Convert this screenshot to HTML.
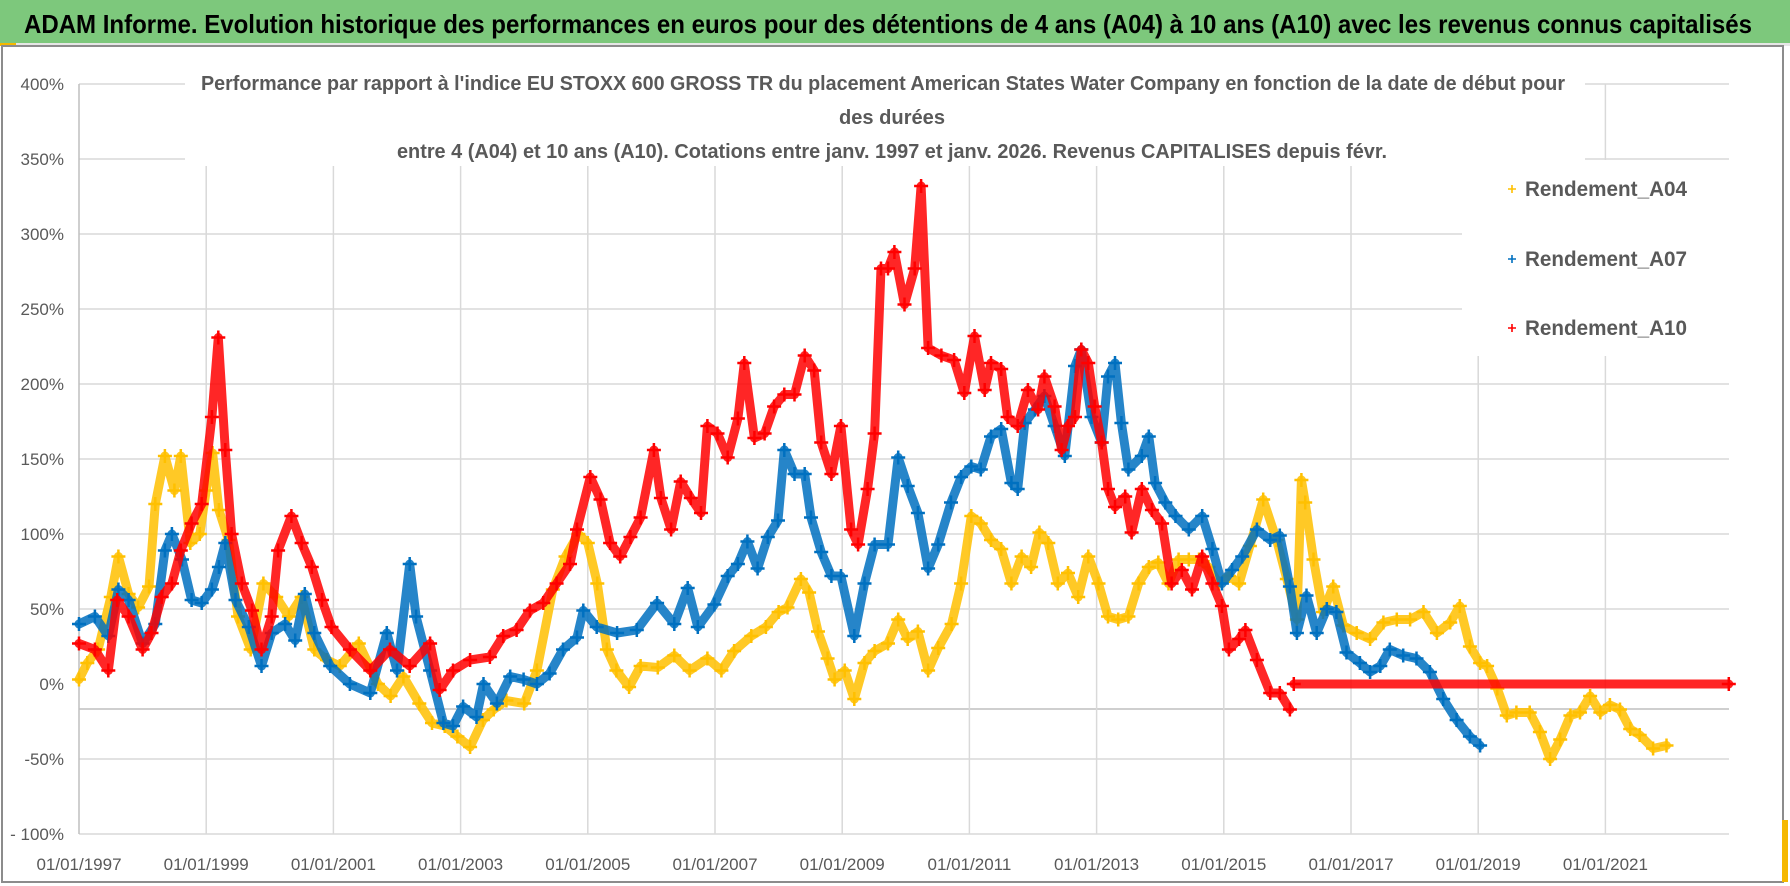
<!DOCTYPE html>
<html><head><meta charset="utf-8"><style>
html,body{margin:0;padding:0;background:#fff;}
svg{display:block;font-family:"Liberation Sans Narrow","Liberation Sans",sans-serif;}
</style></head><body>
<svg id="chart" width="1790" height="886" viewBox="0 0 1790 886" xmlns="http://www.w3.org/2000/svg">
<rect x="0" y="0" width="1790" height="886" fill="#fff"/>
<rect x="0" y="0" width="1790" height="43" fill="#7dc87c"/>
<rect x="0" y="43" width="1790" height="3" fill="#e6e6e6"/>
<rect x="0" y="43" width="16" height="3" fill="#f5b800"/>
<text x="24" y="33" font-size="26" font-weight="bold" fill="#000" textLength="1728" lengthAdjust="spacingAndGlyphs">ADAM Informe. Evolution historique des performances en euros pour des détentions de 4 ans (A04) à 10 ans (A10) avec les revenus connus capitalisés</text>
<rect x="2" y="46" width="1781" height="836" fill="none" stroke="#8c8c8c" stroke-width="2"/>
<rect x="1782" y="820" width="6" height="62" fill="#f5b800"/>
<g id="grid"></g>
<g id="series"></g>
<rect x="185" y="68" width="1400" height="98" fill="#fff"/>
<text x="883" y="90" font-size="20" font-weight="bold" fill="#595959" text-anchor="middle" textLength="1364" lengthAdjust="spacingAndGlyphs">Performance par rapport à l'indice EU STOXX 600 GROSS TR  du placement American States Water Company en fonction de la date de début pour</text>
<text x="892" y="124" font-size="20" font-weight="bold" fill="#595959" text-anchor="middle" textLength="106" lengthAdjust="spacingAndGlyphs">des durées</text>
<text x="892" y="158" font-size="20" font-weight="bold" fill="#595959" text-anchor="middle" textLength="990" lengthAdjust="spacingAndGlyphs">entre 4 (A04) et 10 ans (A10). Cotations entre janv. 1997 et janv. 2026. Revenus CAPITALISES depuis févr.</text>
<g>
<rect x="1462" y="160" width="272" height="196" fill="#fff"/>
<g><path d="M1508 189h8M1512 185v8" stroke="#ffc000" stroke-width="1.6"/><text x="1525" y="196" font-size="21" font-weight="bold" fill="#595959" textLength="162" lengthAdjust="spacingAndGlyphs">Rendement_A04</text></g>
<g><path d="M1508 259h8M1512 255v8" stroke="#0070c0" stroke-width="1.6"/><text x="1525" y="266" font-size="21" font-weight="bold" fill="#595959" textLength="162" lengthAdjust="spacingAndGlyphs">Rendement_A07</text></g>
<g><path d="M1508 328h8M1512 324v8" stroke="#ff0000" stroke-width="1.6"/><text x="1525" y="335" font-size="21" font-weight="bold" fill="#595959" textLength="162" lengthAdjust="spacingAndGlyphs">Rendement_A10</text></g>
</g>
</svg>
<script>
const yTicks=[400,350,300,250,200,150,100,50,0,-50,-100];
const yTickLabels=["400%","350%","300%","250%","200%","150%","100%","50%","0%","-50%","- 100%"];
const xTicks=[1997,1999,2001,2003,2005,2007,2009,2011,2013,2015,2017,2019,2021];
const xTickLabels=["01/01/1997","01/01/1999","01/01/2001","01/01/2003","01/01/2005","01/01/2007","01/01/2009","01/01/2011","01/01/2013","01/01/2015","01/01/2017","01/01/2019","01/01/2021"];
const a04Dates=[1997.0,1997.13,1997.3,1997.5,1997.62,1997.78,1997.93,1998.1,1998.2,1998.35,1998.5,1998.6,1998.75,1998.9,1999.0,1999.1,1999.2,1999.35,1999.5,1999.7,1999.9,2000.1,2000.3,2000.5,2000.7,2000.9,2001.1,2001.4,2001.7,2001.9,2002.1,2002.35,2002.55,2002.75,2002.95,2003.15,2003.35,2003.52,2003.72,2004.0,2004.2,2004.45,2004.65,2004.85,2005.0,2005.15,2005.3,2005.45,2005.65,2005.83,2006.1,2006.36,2006.6,2006.88,2007.1,2007.3,2007.57,2007.8,2008.0,2008.14,2008.35,2008.48,2008.62,2008.77,2008.88,2009.04,2009.19,2009.35,2009.51,2009.72,2009.88,2010.03,2010.19,2010.35,2010.51,2010.72,2010.87,2011.03,2011.18,2011.34,2011.5,2011.66,2011.82,2011.97,2012.1,2012.24,2012.39,2012.55,2012.71,2012.87,2013.03,2013.18,2013.34,2013.5,2013.66,2013.82,2013.97,2014.13,2014.29,2014.45,2014.61,2014.76,2014.92,2015.08,2015.24,2015.41,2015.62,2015.83,2015.99,2016.15,2016.22,2016.28,2016.41,2016.56,2016.72,2016.88,2017.09,2017.3,2017.51,2017.72,2017.93,2018.14,2018.35,2018.56,2018.71,2018.87,2019.03,2019.14,2019.3,2019.45,2019.6,2019.81,2019.97,2020.13,2020.29,2020.45,2020.6,2020.76,2020.92,2021.07,2021.23,2021.39,2021.54,2021.75,2021.96,2022.04];
const a04Values=[3,14,23,58,85,60,51,65,120,152,129,152,94,100,129,154,116,96,45,23,67,58,45,58,23,16,12,27,0,-8,5,-13,-26,-28,-35,-42,-24,-17,-11,-13,9,63,85,100,94,67,23,9,-2,12,11,19,9,17,9,22,32,38,48,51,70,61,35,17,3,9,-10,14,22,27,43,30,35,9,24,40,67,112,107,96,90,67,85,78,101,94,67,74,58,85,67,45,43,45,67,78,81,67,83,83,83,78,67,72,67,92,123,96,70,43,136,121,83,48,65,39,34,30,41,43,43,48,34,41,52,25,14,12,-3,-21,-19,-19,-32,-50,-37,-21,-19,-8,-19,-14,-17,-30,-34,-43,-41];
const a07Dates=[1997.0,1997.25,1997.46,1997.62,1997.78,1998.0,1998.2,1998.35,1998.46,1998.62,1998.77,1998.93,1999.09,1999.2,1999.3,1999.46,1999.67,1999.87,2000.03,2000.24,2000.4,2000.55,2000.7,2000.95,2001.26,2001.58,2001.84,2002.0,2002.2,2002.3,2002.52,2002.73,2002.88,2003.04,2003.25,2003.36,2003.57,2003.78,2003.99,2004.2,2004.4,2004.61,2004.83,2004.93,2005.14,2005.46,2005.77,2006.09,2006.36,2006.57,2006.73,2006.99,2007.2,2007.36,2007.51,2007.67,2007.83,2007.99,2008.09,2008.25,2008.41,2008.51,2008.67,2008.83,2008.98,2009.19,2009.35,2009.51,2009.72,2009.88,2010.03,2010.19,2010.35,2010.51,2010.71,2010.87,2011.03,2011.18,2011.34,2011.5,2011.66,2011.76,2011.87,2012.03,2012.18,2012.34,2012.5,2012.66,2012.76,2012.92,2013.08,2013.18,2013.29,2013.39,2013.5,2013.71,2013.82,2013.92,2014.08,2014.24,2014.45,2014.66,2014.82,2014.97,2015.13,2015.29,2015.52,2015.73,2015.88,2016.04,2016.15,2016.3,2016.46,2016.62,2016.77,2016.93,2017.14,2017.3,2017.46,2017.61,2017.82,2018.03,2018.24,2018.45,2018.66,2018.87,2019.03];
const a07Values=[40,45,32,63,56,27,40,89,100,83,56,54,63,78,94,56,38,12,34,40,29,60,34,12,0,-6,34,9,80,45,9,-26,-28,-15,-22,0,-13,5,3,0,7,23,31,49,38,34,36,54,40,64,38,53,72,80,95,77,98,109,156,140,140,111,88,72,72,32,67,93,93,151,132,114,77,93,121,138,145,143,165,170,134,130,174,183,192,172,152,212,223,178,161,205,214,174,143,152,165,134,121,112,103,112,90,67,76,85,103,96,99,65,34,59,34,50,48,21,14,8,12,23,19,17,8,-10,-24,-35,-41];
const a10Dates=[1997.0,1997.25,1997.46,1997.6,1997.78,1998.0,1998.14,1998.3,1998.46,1998.6,1998.77,1998.93,1999.09,1999.19,1999.3,1999.4,1999.56,1999.72,1999.87,2000.03,2000.13,2000.34,2000.5,2000.66,2000.82,2000.97,2001.26,2001.58,2001.89,2002.2,2002.52,2002.67,2002.88,2003.15,2003.46,2003.67,2003.88,2004.09,2004.3,2004.51,2004.72,2004.83,2005.04,2005.2,2005.35,2005.51,2005.67,2005.83,2006.04,2006.15,2006.31,2006.46,2006.62,2006.78,2006.88,2007.04,2007.2,2007.36,2007.46,2007.62,2007.78,2007.93,2008.09,2008.25,2008.41,2008.56,2008.67,2008.83,2008.98,2009.14,2009.25,2009.4,2009.51,2009.61,2009.72,2009.82,2009.98,2010.14,2010.24,2010.35,2010.56,2010.76,2010.92,2011.08,2011.24,2011.34,2011.5,2011.6,2011.76,2011.92,2012.08,2012.18,2012.34,2012.45,2012.55,2012.66,2012.76,2012.87,2012.97,2013.08,2013.18,2013.29,2013.45,2013.55,2013.71,2013.87,2014.03,2014.18,2014.34,2014.5,2014.66,2014.82,2014.97,2015.08,2015.24,2015.34,2015.52,2015.73,2015.88,2016.04];
const a10Values=[27,23,9,56,45,23,34,58,67,89,107,120,178,231,156,100,67,49,23,45,89,112,94,78,56,38,23,9,23,12,27,-4,9,16,18,32,36,49,54,67,80,103,138,123,94,85,98,111,156,124,103,135,124,114,172,167,151,177,214,164,167,185,193,193,219,209,161,140,172,103,93,130,167,277,277,288,253,277,332,224,219,216,194,232,196,214,210,178,172,196,183,205,185,156,172,178,223,214,185,161,130,118,125,101,130,116,107,67,76,63,85,67,52,23,30,36,16,-6,-6,-17];
const a10ZeroDates=[2016.1,2022.94];
const a10ZeroValues=[0,0];

const NS="http://www.w3.org/2000/svg";
const X0=79,PXY=63.6,Y0=84;
function xs(t){return X0+(t-1997)*PXY;}
function ys(v){return Y0+(400-v)*1.5;}
const XR=1729;
const grid=document.getElementById('grid');
function mk(tag,attrs,parent){const e=document.createElementNS(NS,tag);for(const k in attrs)e.setAttribute(k,attrs[k]);parent.appendChild(e);return e;}
yTicks.forEach((v,i)=>{
  if(v!==0){
    const l=mk('line',{x1:X0,x2:XR,y1:ys(v),y2:ys(v),stroke:'#d9d9d9','stroke-width':1.5},grid);
    
    
  }
  const t=mk('text',{x:64,y:ys(v)+6,'font-size':17,fill:'#595959','text-anchor':'end'},grid);
  
  
  t.textContent=yTickLabels[i];
});
const ax=mk('line',{x1:X0,x2:XR,y1:ys(-16.7),y2:ys(-16.7),stroke:'#bfbfbf','stroke-width':1.5},grid);


xTicks.forEach((t,i)=>{
  const l=mk('line',{x1:xs(t),x2:xs(t),y1:ys(400),y2:ys(-100),stroke:i===0?'#bfbfbf':'#d9d9d9','stroke-width':1.5},grid);
  
  
  const tx=mk('text',{x:xs(t),y:870,'font-size':17,fill:'#595959','text-anchor':'middle'},grid);
  
  
  tx.textContent=xTickLabels[i];
});
const sg=document.getElementById('series');
function drawSeries(dates,vals,color,name,lw){
  const g=mk('g',{},sg);
  
  
  const pts=dates.map((d,i)=>xs(d).toFixed(1)+','+ys(vals[i]).toFixed(1)).join(' ');
  const pl=mk('polyline',{points:pts,fill:'none',stroke:color,'stroke-width':lw,'stroke-linejoin':'round','stroke-linecap':'round','stroke-opacity':0.85},g);
  
  
  let d='';
  dates.forEach((dt,i)=>{const x=xs(dt),y=ys(vals[i]);d+=`M${(x-7).toFixed(1)} ${y.toFixed(1)}h14M${x.toFixed(1)} ${(y-7).toFixed(1)}v14`;});
  const mp=mk('path',{d:d,stroke:color,'stroke-width':2.5,fill:'none'},g);
  
  
}
drawSeries(a04Dates,a04Values,'#ffc000','series-a04',9);
drawSeries(a07Dates,a07Values,'#0070c0','series-a07',9);
drawSeries(a10Dates,a10Values,'#ff0000','series-a10',9);
drawSeries(a10ZeroDates,a10ZeroValues,'#ff0000','series-a10-zero',9);
</script>
</body></html>
